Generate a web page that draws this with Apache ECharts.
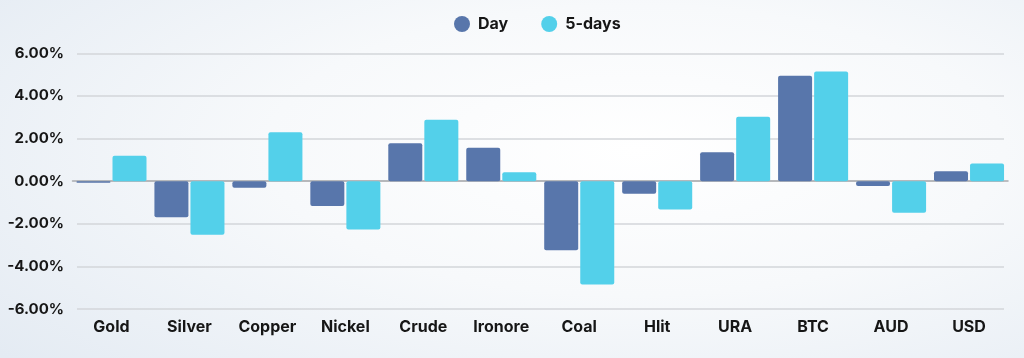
<!DOCTYPE html>
<html>
<head>
<meta charset="utf-8">
<script src="https://cdn.jsdelivr.net/npm/echarts@6/dist/echarts.min.js"></script>
<style>
html,body{margin:0;padding:0;}
body{width:1024px;height:358px;background:radial-gradient(ellipse 80% 90% at 62% 42%, #ffffff 0%, #f7f9fb 45%, #e4ebf3 100%);}
#c{width:1024px;height:358px;}
</style>
</head>
<body>
<div id="c"></div>
<script>
const categories = ['Gold','Silver','Copper','Nickel','Crude','Ironore','Coal','Hlit','URA','BTC','AUD','USD'];
const dayValues = [-0.07,-1.69,-0.31,-1.17,1.78,1.57,-3.24,-0.59,1.36,4.95,-0.23,0.47];
const fiveDayValues = [1.19,-2.52,2.30,-2.27,2.88,0.42,-4.85,-1.33,3.02,5.15,-1.48,0.83];
const yTicks = [-6,-4,-2,0,2,4,6];

const font = 'Inter, "Open Sans", sans-serif';
const chart = echarts.init(document.getElementById('c'), null, {renderer:'canvas'});
chart.setOption({
  backgroundColor: 'transparent',
  animation: false,
  legend: {
    top: 11, left: 449,
    icon: 'circle', itemWidth: 16, itemHeight: 16, itemGap: 33,
    textStyle: {fontFamily: font, fontWeight: 700, fontSize: 16, color: '#161616', padding:[0,0,0,3]},
    data: ['Day','5-days']
  },
  grid: [
    {left: 77, right: 20, top: 53.3, bottom: 49, containLabel: false},
    {left: 72.5, right: 16, top: 53.3, bottom: 49, containLabel: false}
  ],
  xAxis: [
    {gridIndex: 0, type: 'category', data: categories, show: false},
    {gridIndex: 1, type: 'category', data: categories, boundaryGap: true,
     axisLine: {show: true, onZero: true, lineStyle: {color: '#a9abae', width: 1.5}},
     axisTick: {show: false},
     axisLabel: {interval: 0, margin: 10, fontFamily: font, fontWeight: 700, fontSize: 16, color: '#161616'}}
  ],
  yAxis: [
    {gridIndex: 0, type: 'value', min: yTicks[0], max: yTicks[yTicks.length-1], interval: 2,
     axisLine: {show: false}, axisTick: {show: false},
     axisLabel: {margin: 13, fontFamily: font, fontWeight: 700, fontSize: 15, color: '#161616',
       formatter: v => v.toFixed(2) + '%'},
     splitLine: {lineStyle: {color: '#d3d6da', width: 1.5}}},
    {gridIndex: 1, type: 'value', min: yTicks[0], max: yTicks[yTicks.length-1], interval: 2, show: false,
     splitLine: {show: false}}
  ],
  series: [
    {name: 'Day', type: 'bar', xAxisIndex: 1, yAxisIndex: 1, data: dayValues,
     barWidth: 34, barGap: '6%', itemStyle: {color: '#5876ab', borderRadius: 2}},
    {name: '5-days', type: 'bar', xAxisIndex: 1, yAxisIndex: 1, data: fiveDayValues,
     barWidth: 34, barGap: '6%', itemStyle: {color: '#53d0ea', borderRadius: 2}}
  ]
});
</script>
</body>
</html>
